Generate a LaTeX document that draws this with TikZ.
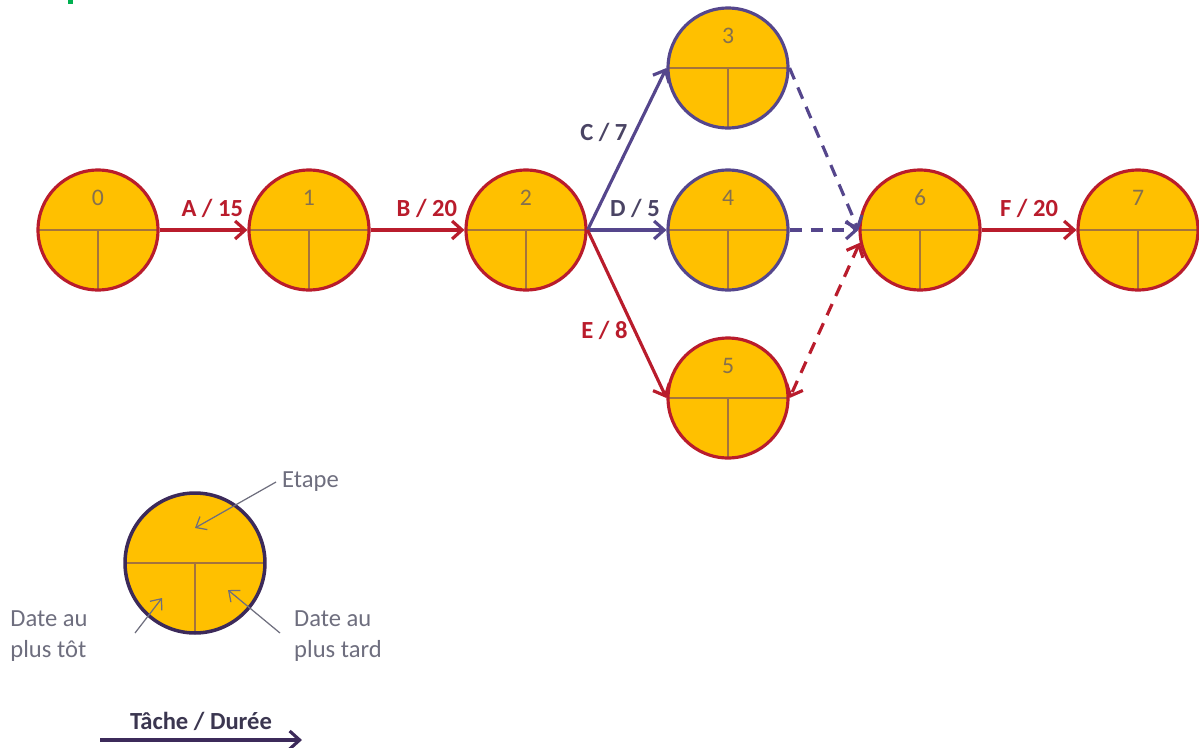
\documentclass[tikz,border=0pt]{standalone}
\usepackage{fontspec}
\setmainfont{Carlito}
\usetikzlibrary{arrows.meta,positioning}
\definecolor{jaune}{HTML}{FFC000}
\definecolor{rouge}{HTML}{B91C2C}
\definecolor{mauve}{HTML}{55468C}
\definecolor{encre}{HTML}{4A4464}
\definecolor{brun}{HTML}{A4743C}
\definecolor{chiffre}{HTML}{85704E}
\definecolor{gris}{HTML}{6E6E7E}
\definecolor{nuit}{HTML}{3C2A5A}
\definecolor{vert}{HTML}{00B050}

\begin{document}
\begin{tikzpicture}[x=0.02cm, y=-0.02cm,
  etape/.style={circle, draw=rouge, line width=1.8pt, fill=jaune, minimum size=2.4cm, inner sep=0pt,
    path picture={\draw[brun, line width=0.8pt] (path picture bounding box.west) -- (path picture bounding box.east)
      (path picture bounding box.center) -- (path picture bounding box.south);}},
  num/.style={text=chiffre, font=\fontsize{13.5}{15}\selectfont, yshift=0.64cm},
  t/.style={line width=1.8pt, -{Straight Barb[length=2mm,width=3.6mm]}},
  tt/.style={line width=1.8pt, dash pattern=on 7pt off 5pt, -{Straight Barb[length=2mm,width=3.6mm]}},
  lab/.style={font=\fontsize{14}{16}\selectfont\bfseries},
  note/.style={text=gris, font=\fontsize{14}{17.6}\selectfont, align=left},
  fl/.style={gris, line width=0.7pt, -{Straight Barb[length=1.8mm,width=3mm]}}
]
  \useasboundingbox (0,0) rectangle (1199,747);
  \fill[vert] (68,0) rectangle (73,4);

  % etapes du reseau
  \node[etape, label={[num]center:0}] (n0) at (98,230) {};
  \node[etape, label={[num]center:1}] (n1) at (309,230) {};
  \node[etape, label={[num]center:2}] (n2) at (526,230) {};
  \node[etape, draw=mauve, label={[num]center:3}] (n3) at (728,68) {};
  \node[etape, draw=mauve, label={[num]center:4}] (n4) at (728,230) {};
  \node[etape, label={[num]center:5}] (n5) at (728,398) {};
  \node[etape, label={[num]center:6}] (n6) at (920,230) {};
  \node[etape, label={[num]center:7}] (n7) at (1138,230) {};

  % taches
  \draw[t, rouge] (n0.east) -- node[lab, above=3pt, pos=0.6] {A / 15} (n1.west);
  \draw[t, rouge] (n1.east) -- node[lab, above=3pt, pos=0.6] {B / 20} (n2.west);
  \draw[t, mauve] (n2.east) -- node[lab, left, pos=0.6, text=encre] {C / 7} (n3.west);
  \draw[t, mauve] (n2.east) -- node[lab, above=3pt, pos=0.6, text=encre] {D / 5} (n4.west);
  \draw[t, rouge] (n2.east) -- node[lab, left, pos=0.6] {E / 8} (n5.west);
  \draw[t, rouge] (n6.east) -- node[lab, above=3pt, pos=0.5] {F / 20} (n7.west);
  \draw[tt, mauve] (n3.east) -- (n6.west);
  \draw[tt, mauve] (n4.east) -- (n6.west);
  \draw[tt, rouge, {Straight Barb[length=2mm,width=3.6mm]}-{Straight Barb[length=2mm,width=3.6mm]}] (n6.192) -- (n5.east);

  % legende
  \node[etape, draw=nuit, line width=2pt, minimum size=2.8cm] (leg) at (195,563) {};
  \node[note, anchor=west] (etq) at (276,482) {Etape};
  \node[note] (tot) at (49,636) {Date au\\plus tôt};
  \node[note] (tard) at (338,636) {Date au\\plus tard};
  \coordinate (etq-b) at (195,528);
  \coordinate (tot-a) at (135,633);
  \coordinate (tot-b) at (162,598);
  \coordinate (tard-a) at (280,633);
  \coordinate (tard-b) at (228,590);
  \draw[fl] (etq.west) -- (etq-b);
  \draw[fl] (tot-a) -- (tot-b);
  \draw[fl] (tard-a) -- (tard-b);

  \coordinate (d1) at (100,740);
  \coordinate (d2) at (302,740);
  \draw[t, nuit, line width=1.8pt] (d1) -- node[lab, above=1pt, text=encre!80!black] {Tâche / Durée} (d2);
\end{tikzpicture}
\end{document}
